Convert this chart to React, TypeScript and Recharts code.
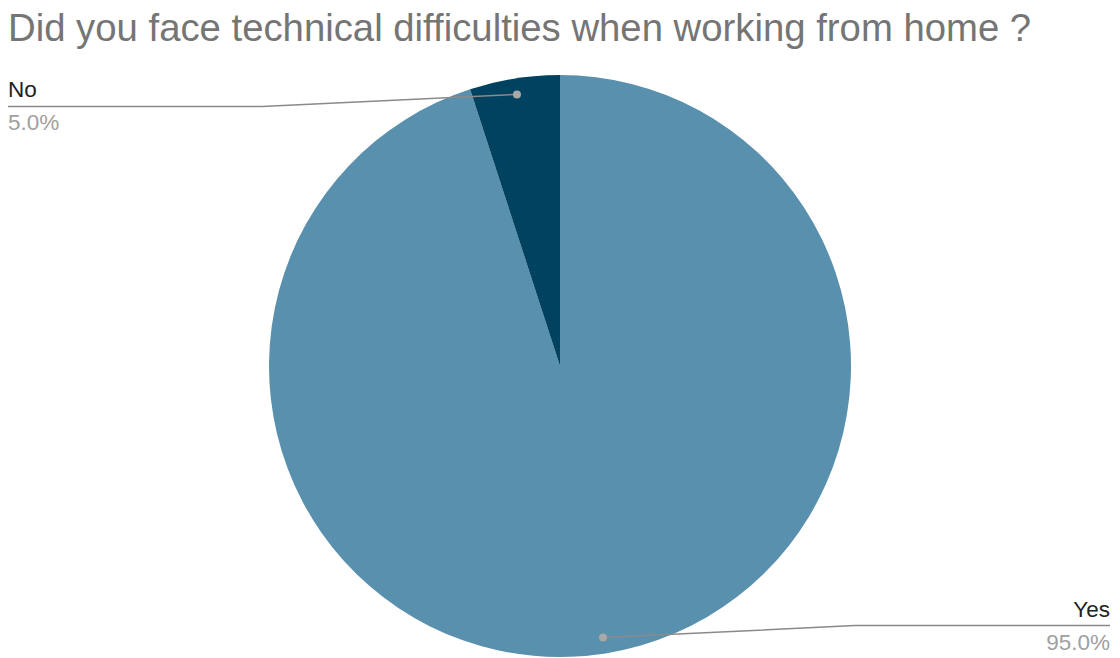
import React from 'react';
import { PieChart, Pie, Cell } from 'recharts';

const categories = ['Yes', 'No'];
const values = [95, 5];
const colors = ['#5990ae', '#00425f'];
const title = 'Did you face technical difficulties when working from home ?';

const data = categories.map((name, i) => ({ name, value: values[i] }));
const total = values.reduce((a, b) => a + b, 0);

const W = 1120;
const H = 658;
const RAD = Math.PI / 180;
const FONT = '"Liberation Sans", Arial, sans-serif';

const renderLabel = (props: any) => {
  const { cx, cy, midAngle, outerRadius, name, value } = props;
  const r = outerRadius - 16;
  const dx = cx + r * Math.cos(-midAngle * RAD);
  const dy = cy + r * Math.sin(-midAngle * RAD);
  const left = dx < cx;
  const lineY = left ? dy + 12 : dy - 12;
  const elbowX = left ? dx - 255 : dx + 252;
  const endX = left ? 8 : 1110;
  const anchor = left ? 'start' : 'end';
  const pct = ((value / total) * 100).toFixed(1) + '%';
  return (
    <g>
      <polyline
        points={`${dx},${dy} ${elbowX},${lineY} ${endX},${lineY}`}
        fill="none"
        stroke="#8a8a8a"
        strokeWidth={1.5}
      />
      <circle cx={dx} cy={dy} r={4} fill="#a8a8a8" />
      <text x={endX} y={lineY - 9} textAnchor={anchor} fontSize={22.5} fill="#222222" fontFamily={FONT}>
        {name}
      </text>
      <text x={endX} y={lineY + 24} textAnchor={anchor} fontSize={22.5} fill="#a0a0a0" fontFamily={FONT}>
        {pct}
      </text>
    </g>
  );
};

export default function App() {
  return (
    <div style={{ position: 'absolute', left: 0, top: 0, width: W, height: H, background: '#ffffff' }}>
      <PieChart width={W} height={H} margin={{ top: 0, right: 0, bottom: 0, left: 0 }}>
        <text x={8} y={41} fontSize={38.3} fill="#757575" fontFamily={FONT}>
          {title}
        </text>
        <Pie
          data={data}
          dataKey="value"
          nameKey="name"
          cx={560}
          cy={366}
          outerRadius={291}
          startAngle={90}
          endAngle={-270}
          stroke="none"
          label={renderLabel}
          labelLine={false}
          isAnimationActive={false}
        >
          {data.map((d, i) => (
            <Cell key={d.name} fill={colors[i]} />
          ))}
        </Pie>
      </PieChart>
    </div>
  );
}
